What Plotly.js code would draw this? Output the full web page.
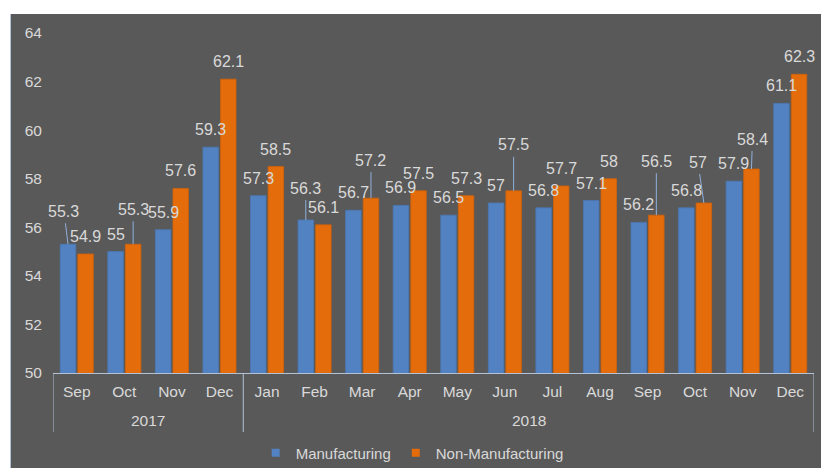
<!DOCTYPE html>
<html><head><meta charset="utf-8">
<script src="https://cdn.plot.ly/plotly-3.0.1.min.js"></script>
<style>
html,body{margin:0;padding:0;background:#ffffff;width:821px;height:468px;overflow:hidden;}
#frame{position:absolute;left:10px;top:14px;width:1px;height:454px;background:#b3c2d6;}
#chart{position:absolute;left:11px;top:14px;width:810px;height:454px;}
</style></head><body>
<div id="frame"></div><div id="chart"></div>
<script>
// ---- data ----
const years = ['2017','2017','2017','2017','2018','2018','2018','2018','2018','2018','2018','2018','2018','2018','2018','2018'];
const months = ['Sep','Oct','Nov','Dec','Jan','Feb','Mar','Apr','May','Jun','Jul','Aug','Sep','Oct','Nov','Dec'];
const manufacturing = [55.3,55,55.9,59.3,57.3,56.3,56.7,56.9,56.5,57,56.8,57.1,56.2,56.8,57.9,61.1];
const nonManufacturing = [54.9,55.3,57.6,62.1,58.5,56.1,57.2,57.5,57.3,57.5,57.7,58,56.5,57,58.4,62.3];
const seriesNames = ['Manufacturing','Non-Manufacturing'];
const yTicks = [50,52,54,56,58,60,62,64];

// ---- style ----
const colors = ['#5282c2','#e46c0a'];
const lineColors = ['#4a78b6','#d0620a'];
const txt = '#d9d9d9';
const axisLine = '#b3c2d6';
const font = 'Liberation Sans, Arial, sans-serif';
const bargap = 0.26, bargroupgap = 0.12;
const barOff = (1 - bargap) / 4;
// label offsets (pixels) for labels drawn with leader lines: index -> [dx, dy]
const leaders = [
  {0:[-4,-33], 5:[0,-32]},
  {1:[0,-35], 6:[0,-38], 9:[0,-46], 12:[0,-54], 13:[-6,-41], 14:[1,-30]}
];

const idx = months.map((m, i) => i);
const series = [manufacturing, nonManufacturing];

const traces = series.map((vals, s) => ({
  type: 'bar', name: seriesNames[s], x: idx, y: vals,
  marker: {color: colors[s], line: {color: lineColors[s], width: 0.8}},
  showlegend: false, hoverinfo: 'skip'
}));
// legend proxies (small square keys)
seriesNames.forEach((n, s) => traces.push({
  type: 'scatter', mode: 'markers', name: n, x: [null], y: [null],
  marker: {symbol: 'square', size: 8, color: colors[s]}, showlegend: true
}));

const annotations = [];
series.forEach((vals, s) => {
  vals.forEach((v, i) => {
    const xPos = idx[i] + (s === 0 ? -barOff : barOff);
    const lead = leaders[s][i];
    const a = {
      xref: 'x', yref: 'y', x: xPos, y: v, text: String(v),
      font: {family: font, size: 16, color: txt}
    };
    if (lead) {
      Object.assign(a, {showarrow: true, ax: lead[0], ay: lead[1], arrowhead: 0,
        arrowwidth: 1, arrowcolor: '#8fb0dc', standoff: 0, startstandoff: 2});
    } else {
      Object.assign(a, {showarrow: false, yshift: 17.5});
    }
    annotations.push(a);
  });
});

// year groups: labels and dividers
const shapes = [];
const groups = [];
years.forEach((y, i) => {
  if (!groups.length || groups[groups.length - 1].year !== y) groups.push({year: y, start: i, end: i});
  else groups[groups.length - 1].end = i;
});
groups.forEach((g, k) => {
  annotations.push({xref: 'x', yref: 'paper', x: (g.start + g.end) / 2, y: -0.141,
    yanchor: 'middle', text: g.year, showarrow: false,
    font: {family: font, size: 15.5, color: txt}});
  const bounds = k === 0 ? [g.start - 0.5, g.end + 0.5] : [g.end + 0.5];
  bounds.forEach(b => shapes.push({type: 'line', xref: 'x', yref: 'paper', x0: b, x1: b,
    y0: 0, y1: -0.1735, line: {color: axisLine, width: 1}}));
});

const layout = {
  width: 810, height: 454,
  margin: {l: 42, r: 7, t: 19, b: 95, autoexpand: false},
  paper_bgcolor: '#595959', plot_bgcolor: '#595959',
  font: {family: font, color: txt, size: 15},
  barmode: 'group', bargap: bargap, bargroupgap: bargroupgap,
  xaxis: {
    range: [-0.5, months.length - 0.5], tickvals: idx, ticktext: months,
    showline: true, linecolor: axisLine, linewidth: 1, automargin: false,
    showgrid: false, zeroline: false, ticks: '', ticklabelstandoff: 4,
    tickfont: {family: font, size: 15.5, color: txt}
  },
  yaxis: {
    range: [50, 64], tickvals: yTicks, showgrid: false, zeroline: false, showline: false,
    ticks: '', ticklabelstandoff: 10, automargin: false,
    tickfont: {family: font, size: 15.5, color: txt}
  },
  legend: {orientation: 'h', x: 0.472, xanchor: 'center', y: -0.235, yanchor: 'middle',
    font: {family: font, size: 15, color: txt}, bgcolor: 'rgba(0,0,0,0)', itemwidth: 30},
  annotations: annotations,
  shapes: shapes,
  showlegend: true
};

Plotly.newPlot('chart', traces, layout, {displayModeBar: false, staticPlot: true});
</script>
</body></html>
